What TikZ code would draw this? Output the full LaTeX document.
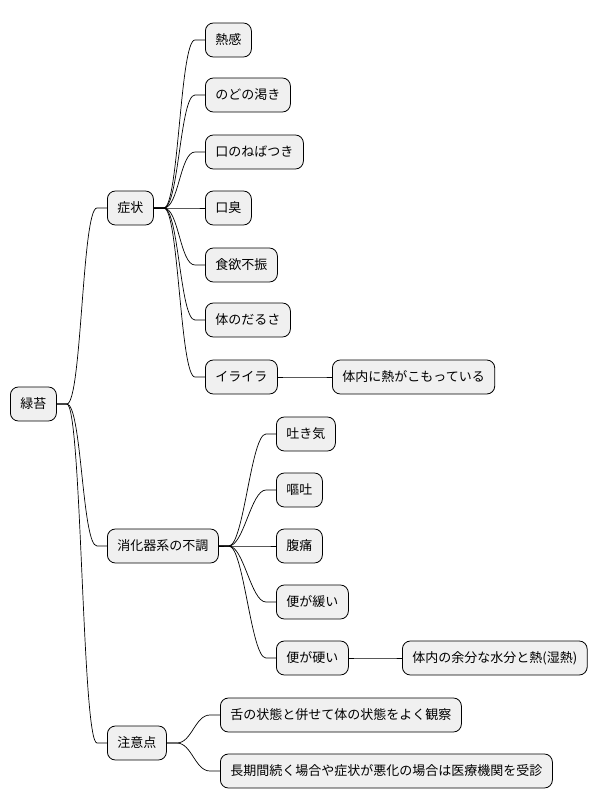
\documentclass[tikz,border=0pt]{standalone}
\usepackage{fontspec}
\setmainfont{Noto Sans CJK JP}
\begin{document}
\begin{tikzpicture}[x=1pt,y=-1pt,
  box/.style={draw=black,line width=0.8pt,fill=black!6,rounded corners=8pt,minimum height=34pt,inner xsep=10pt,anchor=west,font=\fontsize{13}{15}\selectfont},
  link/.style={line width=0.7pt}]
\useasboundingbox (0,0) rectangle (611,809);
\node[box] (r) at (10,404) {緑苔};
\node[box] (a) at (107,208) {症状};
\node[box] (b) at (107,546) {消化器系の不調};
\node[box] (c) at (107,743) {注意点};
\node[box] (a1) at (205,40) {熱感};
\node[box] (a2) at (205,95) {のどの渇き};
\node[box] (a3) at (205,152) {口のねばつき};
\node[box] (a4) at (205,208) {口臭};
\node[box] (a5) at (205,265) {食欲不振};
\node[box] (a6) at (205,320) {体のだるさ};
\node[box] (a7) at (205,377) {イライラ};
\node[box] (a7a) at (332,377) {体内に熱がこもっている};
\node[box] (b1) at (276,434) {吐き気};
\node[box] (b2) at (276,490) {嘔吐};
\node[box] (b3) at (276,546) {腹痛};
\node[box] (b4) at (276,602) {便が緩い};
\node[box] (b5) at (276,658) {便が硬い};
\node[box] (b5a) at (402,658) {体内の余分な水分と熱(湿熱)};
\node[box] (c1) at (220,715) {舌の状態と併せて体の状態をよく観察};
\node[box] (c2) at (220,771) {長期間続く場合や症状が悪化の場合は医療機関を受診};
\foreach \p/\c in {r/a,r/b,r/c,a/a1,a/a2,a/a3,a/a4,a/a5,a/a6,a/a7,a7/a7a,b/b1,b/b2,b/b3,b/b4,b/b5,b5/b5a,c/c1,c/c2}
  \draw[link] (\p.east) -- ++(10,0) .. controls +(15,0) and +(-15,0) .. ([xshift=-10pt]\c.west) -- (\c.west);
\end{tikzpicture}
\end{document}
